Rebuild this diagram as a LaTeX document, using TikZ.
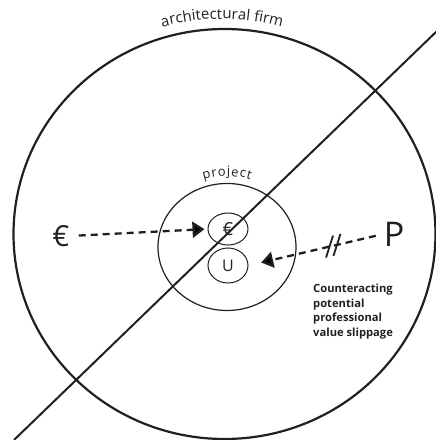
\documentclass[tikz,border=0pt]{standalone}
\usepackage{fontspec}
\setmainfont{Open Sans}
\usetikzlibrary{shapes.geometric,arrows.meta,decorations.text,calc}
\definecolor{ink}{HTML}{231F20}
\begin{document}
\begin{tikzpicture}[x=1pt,y=1pt,
  oval/.style={ellipse, draw=ink, line width=1pt, inner sep=0pt, minimum width=40pt, minimum height=33pt},
  dasharrow/.style={draw=ink, line width=2.3pt, dash pattern=on 7pt off 5pt, -{Triangle[length=12pt,width=16pt]}},
  bigglyph/.style={text=ink, inner sep=0pt},
  curved/.style={decorate, decoration={text along path, text align=center, text color=ink}},
]
\useasboundingbox (0,0) rectangle (436,440);
% outer firm ellipse and diagonal
\draw[ink, line width=2.2pt] (224.5,206) ellipse [x radius=211, y radius=205];
\coordinate (d1) at (14,0);
\coordinate (d2) at (437,409);
\draw[ink, line width=2pt] (d1) -- (d2);
% project ellipse
\draw[ink, line width=1.2pt] (227,193) ellipse [x radius=69, y radius=63.5];
% curved labels
\path[curved, decoration={text={|\fontsize{15}{15}\selectfont|architectural firm}}]
  (222,195) ++(115:226) arc[start angle=115, end angle=65, radius=226];
\path[curved, decoration={text={|\fontsize{13}{13}\selectfont|p{\kern0.8pt}r{\kern0.8pt}o{\kern0.8pt}j{\kern0.8pt}e{\kern0.8pt}c{\kern0.8pt}t}}]
  (227,192) ++(120:72) arc[start angle=120, end angle=60, radius=72];
% small nodes
\node[oval, minimum height=32pt] (eurS) at (228,211) {};
\node[bigglyph, font=\fontsize{18}{18}\selectfont] at (eurS) {€};
\node[oval, minimum height=35pt, font=\fontsize{16}{16}\selectfont, text=ink] (U) at (228,174.5) {U};
% big glyphs
\node[bigglyph, font=\fontsize{29}{29}\selectfont] (eurL) at (61,204) {€};
\node[bigglyph, font=\fontsize{34}{34}\selectfont] (P) at (394,206) {P};
% arrows
\draw[dasharrow, shorten <=9pt, shorten >=3pt] (eurL.east) -- (eurS.west);
\draw[dasharrow, shorten <=8pt, shorten >=13pt] (P.west) -- (U.east)
  coordinate[pos=0.345] (s1) coordinate[pos=0.40] (s2);
\draw[ink, line width=1.8pt] ($(s1)+(-3.5,-11)$) -- ($(s1)+(3.5,11)$);
\draw[ink, line width=1.8pt] ($(s2)+(-3.5,-11)$) -- ($(s2)+(3.5,11)$);
% note
\node[anchor=north west, align=left, inner sep=0pt, text=ink,
      font=\bfseries\fontsize{11.2}{14.5}\selectfont] (note) at (313,156)
  {Counteracting\\potential\\professional\\value slippage};
\end{tikzpicture}
\end{document}
